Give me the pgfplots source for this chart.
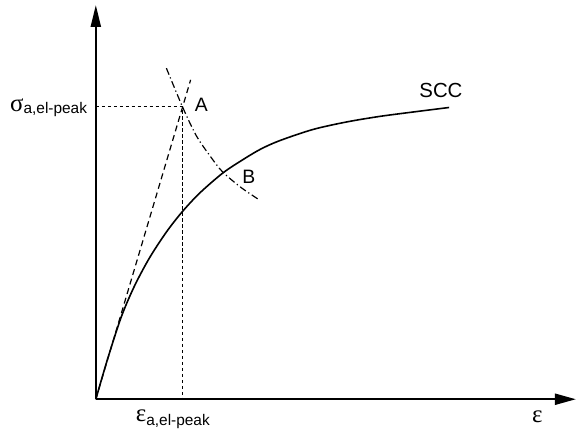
\documentclass[border=0pt]{standalone}
\usepackage{pgfplots}
\pgfplotsset{compat=1.18}
\usetikzlibrary{arrows.meta}
\usepackage{fontspec}
\setmainfont{Liberation Sans}
\newfontfamily\grk{Liberation Serif}

% greek symbol with a sans subscript
\newcommand{\sym}[3]{{\fontsize{25}{25}\selectfont\grk #1}\raisebox{#3}{\fontsize{15.5}{16}\selectfont #2}}

\begin{document}
\begin{tikzpicture}
\begin{axis}[
  scale only axis, width=481bp, height=395bp,
  xmin=0, xmax=481, ymin=0, ymax=395,
  axis lines=left, ticks=none, clip=false,
  axis line style={line width=2.2bp, -{Triangle[length=21bp,width=10bp]}},
  x axis line style={-{Triangle[length=21bp,width=11bp]}},
  y axis line style={-{Triangle[length=22bp,width=10bp]}},
]
% SCC curve
\addplot[line width=1.6bp, smooth, tension=0.5] coordinates {
  (0,0)(12,41)(25.7,83)(39,114)(54,142)(70.7,167.5)(86.3,187.5)(104,206.5)
  (127.3,226.7)(147.3,240)(165,250.5)(184,259)(217.3,270.2)(250.7,277.7)
  (284,283.3)(317.3,287.7)(354,292.3)};
% secant through A
\addplot[line width=1.2bp, dash pattern=on 6bp off 4bp] coordinates {(0,0)(95,320)};
% guide lines to A
\addplot[line width=1.1bp, dash pattern=on 3.5bp off 2.5bp] coordinates {(0,293)(86.5,293)(86.5,0)};
% dash-dot curve through A and B
\addplot[line width=1.2bp, smooth, dash pattern=on 7bp off 3bp on 1.2bp off 3bp] coordinates {
  (70.7,331.7)(86.7,293.3)(100.7,264)(115,243)(127.3,227.5)(145.7,212)(162.3,200.7)};

\node[anchor=base west, inner sep=0, font=\fontsize{19.5}{20}\selectfont] at (axis cs:99,288) {A};
\node[anchor=base west, inner sep=0, font=\fontsize{19.5}{20}\selectfont] at (axis cs:146.7,216) {B};
\node[anchor=base west, inner sep=0, font=\fontsize{20.5}{21}\selectfont] at (axis cs:324,302) {SCC};
\node[anchor=base west, inner sep=0] at (axis cs:-86,288.3) {\sym{σ}{a,el-peak}{-2bp}};
\node[anchor=base west, inner sep=0] at (axis cs:40,-22) {\sym{ε}{a,el-peak}{-4bp}};
\node[anchor=base west, inner sep=0] at (axis cs:437,-23) {{\fontsize{25}{25}\selectfont\grk ε}};
\path (axis cs:-96,-33) rectangle (axis cs:481,400);
\end{axis}
\end{tikzpicture}
\end{document}
